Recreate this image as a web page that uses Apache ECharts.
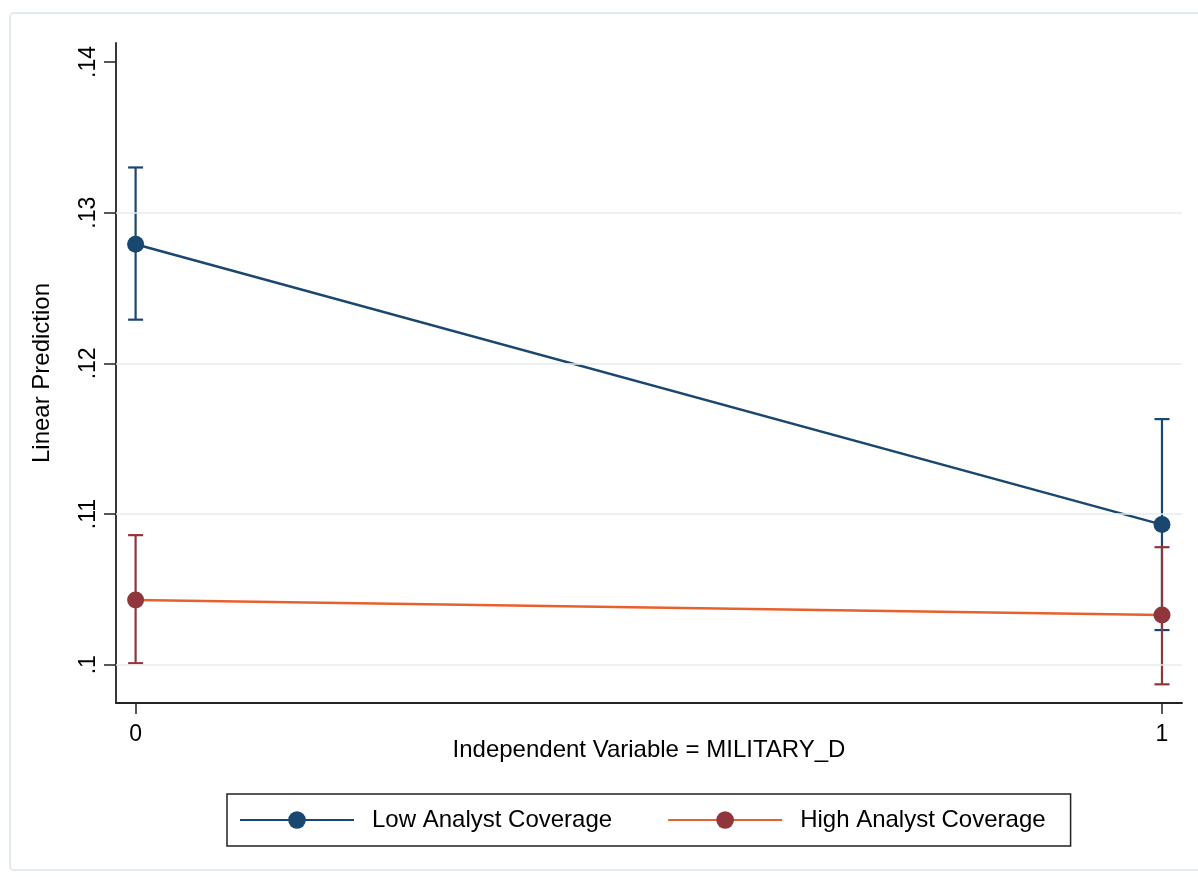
<!DOCTYPE html>
<html>
<head>
<meta charset="utf-8">
<script src="https://cdn.jsdelivr.net/npm/echarts@6/dist/echarts.min.js"></script>
<style>
  html, body { margin: 0; padding: 0; background: #fff; }
  #main { width: 1198px; height: 877px; }
</style>
</head>
<body>
<div id="main"></div>
<script>
const xVals = [0, 1];
const xTicks = [0, 1];
const yTicks = [0.1, 0.11, 0.12, 0.13, 0.14];
const gridVals = [0.1, 0.11, 0.12, 0.13];

// Low Analyst Coverage: margin + 95% CI
const lowMean = [0.1279, 0.1093];
const lowLo = [0.1229, 0.1023];
const lowHi = [0.1330, 0.1163];

// High Analyst Coverage
const highMean = [0.1043, 0.1033];
const highLo = [0.1001, 0.0987];
const highHi = [0.1086, 0.1078];

const navy = '#1a476f';
const maroon = '#90353b';
const orange = '#e8602c';
const font = "'Liberation Sans', Arial, Helvetica, sans-serif";

const ciSeries = (name, lo, hi, color) => ({
    type: 'custom',
    name: name,
    silent: true,
    z: 2,
    data: xVals.map((x, i) => [x, lo[i], hi[i]]),
    renderItem: (params, api) => {
        const top = api.coord([api.value(0), api.value(2)]);
        const bot = api.coord([api.value(0), api.value(1)]);
        const cap = 7.5;
        const style = { stroke: color, lineWidth: 2.2 };
        return {
            type: 'group',
            children: [
                { type: 'line', shape: { x1: top[0], y1: top[1], x2: bot[0], y2: bot[1] }, style },
                { type: 'line', shape: { x1: top[0] - cap, y1: top[1], x2: top[0] + cap, y2: top[1] }, style },
                { type: 'line', shape: { x1: bot[0] - cap, y1: bot[1], x2: bot[0] + cap, y2: bot[1] }, style }
            ]
        };
    }
});

const chart = echarts.init(document.getElementById('main'));
chart.setOption({
    backgroundColor: '#fff',
    animation: false,
    textStyle: { fontFamily: font },
    graphic: [{
        type: 'rect',
        shape: { x: 10, y: 13, width: 1220, height: 857, r: 4 },
        style: { fill: 'none', stroke: '#e3ebf0', lineWidth: 2 },
        silent: true
    }],
    grid: { left: 116, right: 16, top: 43, bottom: 174 },
    xAxis: {
        type: 'value',
        min: -0.0191,
        max: 1.0195,
        name: 'Independent Variable = MILITARY_D',
        nameLocation: 'middle',
        nameGap: 35,
        nameMoveOverlap: false,
        nameTextStyle: { color: '#000', fontSize: 24, fontFamily: font },
        axisLine: { onZero: false, lineStyle: { color: '#222', width: 1.8 } },
        axisTick: { show: true, customValues: xTicks, length: 11, lineStyle: { color: '#222', width: 1.5 } },
        axisLabel: { customValues: xTicks, color: '#000', fontSize: 23, margin: 20, fontFamily: font },
        splitLine: { show: false }
    },
    yAxis: {
        type: 'value',
        min: 0.09746,
        max: 0.14126,
        name: 'Linear Prediction',
        nameLocation: 'middle',
        nameGap: 62,
        nameMoveOverlap: false,
        nameTextStyle: { color: '#000', fontSize: 24, fontFamily: font },
        axisLine: { show: true, onZero: false, lineStyle: { color: '#222', width: 1.8 } },
        axisTick: { show: true, customValues: yTicks, length: 12, lineStyle: { color: '#222', width: 1.5 } },
        axisLabel: {
            customValues: yTicks,
            rotate: 90,
            color: '#000',
            fontSize: 23,
            margin: 16,
            fontFamily: font,
            formatter: v => String(v).replace(/^0/, '')
        },
        splitLine: { show: false }
    },
    legend: {
        bottom: 31,
        left: 227,
        data: ['Low Analyst Coverage', 'High Analyst Coverage'],
        itemWidth: 114,
        itemHeight: 22,
        itemGap: 55,
        padding: [14, 25, 14, 12],
        borderColor: '#222',
        borderWidth: 1.5,
        textStyle: { color: '#000', fontSize: 24, fontFamily: font, padding: [0, 0, 0, 13] }
    },
    series: [
        {
            type: 'line',
            name: 'grid',
            silent: true,
            data: [],
            z: 1,
            markLine: {
                silent: true,
                symbol: 'none',
                label: { show: false },
                lineStyle: { color: '#e6eef1', width: 1.5, type: 'solid' },
                data: gridVals.map(v => ({ yAxis: v }))
            }
        },
        ciSeries('lowCI', lowLo, lowHi, navy),
        ciSeries('highCI', highLo, highHi, maroon),
        {
            type: 'line',
            name: 'Low Analyst Coverage',
            data: xVals.map((x, i) => [x, lowMean[i]]),
            symbol: 'circle',
            symbolSize: 17,
            z: 3,
            lineStyle: { color: navy, width: 2.5 },
            itemStyle: { color: navy }
        },
        {
            type: 'line',
            name: 'High Analyst Coverage',
            data: xVals.map((x, i) => [x, highMean[i]]),
            symbol: 'circle',
            symbolSize: 17,
            z: 3,
            lineStyle: { color: orange, width: 2.5 },
            itemStyle: { color: maroon }
        }
    ]
});
</script>
</body>
</html>
